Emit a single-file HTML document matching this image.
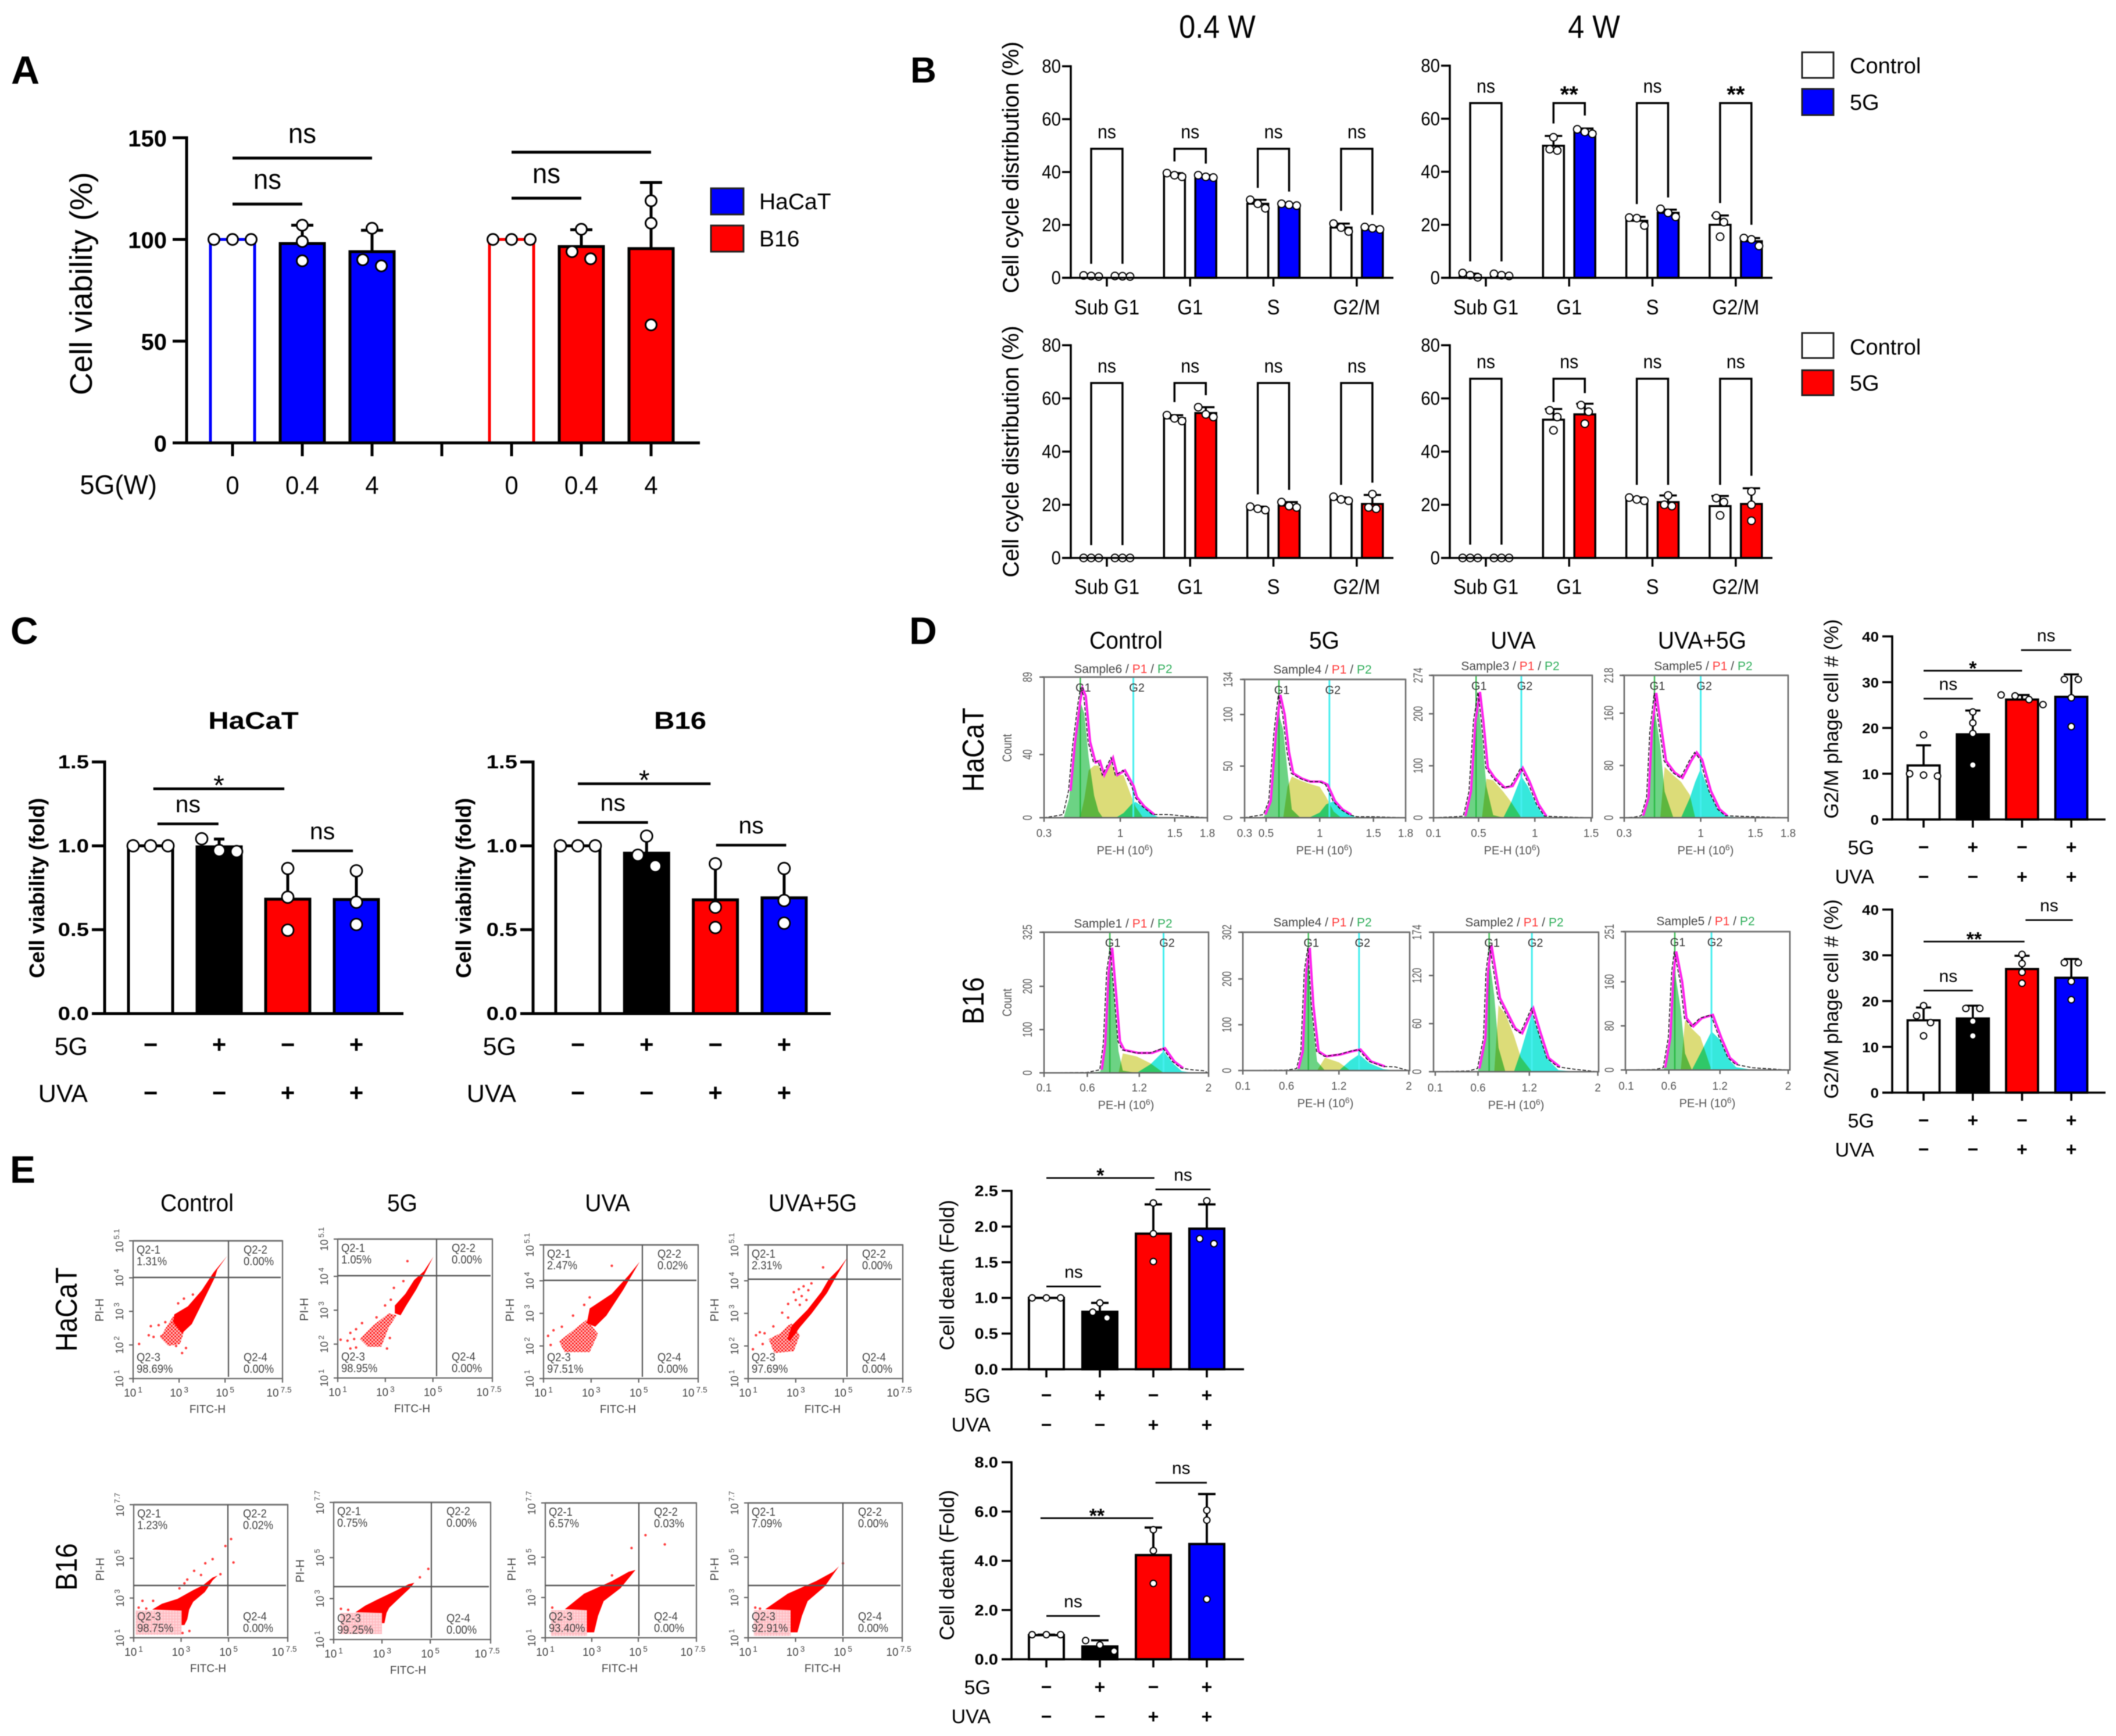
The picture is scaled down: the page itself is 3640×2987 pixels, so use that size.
<!DOCTYPE html>
<html lang="en">
<head>
<meta charset="utf-8">
<title>Multi-panel figure: cell viability, cell cycle and cell death</title>
<style>
html,body{margin:0;padding:0;background:#fff}
svg{display:block;font-family:"Liberation Sans",sans-serif;filter:blur(0.9px)}
</style>
</head>
<body>
<svg id="figure" xmlns="http://www.w3.org/2000/svg" width="3640" height="2987" viewBox="0 0 3640 2987">
<rect x="0" y="0" width="3640" height="2987" fill="#fff"/>
<defs>
<pattern id="speckle" width="6" height="6" patternUnits="userSpaceOnUse">
<rect width="6" height="6" fill="#ffc0c0"/>
<circle cx="1.5" cy="1.5" r="1.6" fill="#ff1010"/>
<circle cx="4.5" cy="4.5" r="1.6" fill="#ff2020"/>
</pattern>
<pattern id="pinkGrid" width="5" height="5" patternUnits="userSpaceOnUse">
<rect width="5" height="5" fill="#ffd4d8"/>
<rect width="1.4" height="5" fill="#ffb8be"/>
<rect width="5" height="1.4" fill="#ffb8be"/>
</pattern>
</defs>
</svg>
<script>
/* ---------- PANEL A DATA ---------- */
const aLabels = ['0','0.4','4','0','0.4','4'];
const aSlots = [0,1,2,4,5,6];
const aMeans = [100,98,94,100,96.5,95.5];
const aTops = [100,107,104.5,100,104.8,128];
const aPoints = [[100,100,100],[107,99,89.5],[87,90,105.5],[100,100,100],[90.5,94,105],[58,108,119]];
const aSigFrom = [0,0,4,4];
const aSigTo = [2,1,6,5];
const aSigLevel = [140,117.4,142.9,120.3];
const aSigText = ['ns','ns','','ns'];
const aYTicks = [0,50,100,150];
const aYTickLabels = ['0','50','100','150'];

/* ---------- PANEL B DATA ---------- */
const bCategories = ['Sub G1','G1','S','G2/M'];
const bYTicks = [0,20,40,60,80];
const bYTickLabels = ['0','20','40','60','80'];
const b1Means = [0.7,0.6,38.8,38.2,28,27.6,19,18.7];
const b1Tops = [0.9,0.7,39.6,38.8,29.5,28,20.5,19.2];
const b1Points = [[0.5,0.7,0.9],[0.5,0.6,0.7],[38.2,38.8,39.6],[37.9,38.2,38.8],[26.3,28,29.5],[27.3,27.6,28],[17.5,19,20.5],[18.3,18.7,19.2]];
const b1BracketTop = [48.8,48.8,48.8,48.8];
const b1LegLeft = [5.3,44,34,25.3];
const b1LegRight = [5.3,43.2,32.6,23.8];
const b1BracketText = ['ns','ns','ns','ns'];
const b2Means = [1,1,49.8,55,21.5,24.5,20,13.8];
const b2Tops = [1.6,1.4,53.5,56.3,23,25.7,23.5,15];
const b2Points = [[0.2,1,1.8],[0.7,1,1.5],[48,48.5,53],[54.3,55,56],[19.7,22.5,22.7],[23,24.5,26],[15.5,21,23.5],[12,14.5,15]];
const b2BracketTop = [65.9,65.9,65.9,65.9];
const b2LegLeft = [6.2,58.2,27.8,28.2];
const b2LegRight = [6.2,61.2,30.3,20];
const b2BracketText = ['ns','**','ns','**'];
const b3Means = [0,0,52.5,54.5,18.6,19.7,22,20.3];
const b3Tops = [0,0,53.7,56.7,19.3,21,22.7,23.7];
const b3Points = [[0,0,0],[0,0,0],[51.5,52.5,53.7],[53,54,56.7],[18,18.5,19.3],[19,19.5,21],[21.5,22,23],[18.5,19,24]];
const b3BracketTop = [65.8,65.8,65.8,65.8];
const b3LegLeft = [4.8,58.6,23.9,27.5];
const b3LegRight = [4.8,61.2,25.6,28.3];
const b3BracketText = ['ns','ns','ns','ns'];
const b4Means = [0,0,52,54,22,21,19.5,20.3];
const b4Tops = [0,0,56,58,22.7,23.5,23.3,26.2];
const b4Points = [[0,0,0],[0,0,0],[48,53,55.5],[50.5,55,57.5],[21.5,22,22.7],[19.5,20,23.5],[16,21,22.5],[14,20,25]];
const b4BracketTop = [67.4,67.4,67.4,67.4];
const b4LegLeft = [5,58.6,27.5,27.5];
const b4LegRight = [5,62,27.5,30.9];
const b4BracketText = ['ns','ns','ns','ns'];

/* ---------- PANEL C DATA ---------- */
const signsFiveG = ['\u2212','+','\u2212','+'];
const signsUva = ['\u2212','\u2212','+','+'];
const cYTicks = [0,0.5,1,1.5];
const cYTickLabels = ['0.0','0.5','1.0','1.5'];
const c1Means = [1,0.994,0.682,0.68];
const c1Tops = [1,1.04,0.865,0.851];
const c1Points = [[1,1,1],[1.042,0.972,0.966],[0.865,0.694,0.497],[0.851,0.664,0.531]];
const c1SigFrom = [0.04,0.1,2.06];
const c1SigTo = [1.95,0.99,2.95];
const c1SigLevel = [1.34,1.131,0.97];
const c1SigText = ['*','ns','ns'];
const c2Means = [1,0.956,0.678,0.69];
const c2Tops = [1,1.058,0.893,0.865];
const c2Points = [[1,1,1],[1.058,0.944,0.879],[0.893,0.634,0.513],[0.865,0.674,0.539]];
const c2SigFrom = [0,0,2.01];
const c2SigTo = [1.93,1.02,3.03];
const c2SigLevel = [1.37,1.139,1.004];
const c2SigText = ['*','ns','ns'];

/* ---------- PANEL D BAR DATA ---------- */
const dYTicks = [0,10,20,30,40];
const dYTickLabels = ['0','10','20','30','40'];
const dBar1Means = [11.8,18.6,26.2,26.8];
const dBar1Tops = [16.2,23.8,27.2,31.7];
const dBar1Points = [[18.5,10,9.5,9.7],[23.5,21.1,18.8,11.9],[27.2,27,26.2,25.1],[30.6,30.6,26.6,20.3]];
const dBar1SigFrom = [0,0,1.98];
const dBar1SigTo = [2,1,3];
const dBar1SigLevel = [32.5,26.4,37];
const dBar1SigText = ['*','ns','ns'];
const dBar2Means = [15.8,16.2,27,25.1];
const dBar2Tops = [18.6,19,29.9,29.2];
const dBar2Points = [[19,16.8,15.3,12.4],[18.4,18.4,15.6,12.4],[30.2,28.2,26.3,23.9],[28.4,28.4,24.3,20.3]];
const dBar2SigFrom = [0,0,2.07];
const dBar2SigTo = [2.05,1,3.03];
const dBar2SigLevel = [33,22.3,37.7];
const dBar2SigText = ['**','ns','ns'];

/* ---------- PANEL E BAR DATA ---------- */
const e1YTicks = [0,0.5,1,1.5,2,2.5];
const e1YTickLabels = ['0.0','0.5','1.0','1.5','2.0','2.5'];
const e1Means = [1,0.805,1.9,1.97];
const e1Tops = [1,0.93,2.31,2.31];
const e1Points = [[1,1,1],[0.93,0.8,0.72],[2.33,1.9,1.51],[2.36,1.83,1.76]];
const e1SigFrom = [0,0,2.04];
const e1SigTo = [2.02,1.02,3.07];
const e1SigLevel = [2.68,1.16,2.52];
const e1SigText = ['*','ns','ns'];
const e2YTicks = [0,2,4,6,8];
const e2YTickLabels = ['0.0','2.0','4.0','6.0','8.0'];
const e2Means = [0.98,0.52,4.23,4.68];
const e2Tops = [1,0.77,5.35,6.71];
const e2Points = [[1,1,1],[0.76,0.58,0.33],[5.26,4.41,3.08],[6.05,5.65,2.44]];
const e2SigFrom = [-0.11,0,2.04];
const e2SigTo = [2,1,3];
const e2SigLevel = [5.73,1.76,7.17];
const e2SigText = ['**','ns','ns'];

/* ---------- PANEL D HISTOGRAM DATA (PE-H in 10^6, counts) ---------- */
const h1Bins  = [0.3,0.4,0.48,0.53,0.57,0.62,0.64,0.67,0.71,0.76,0.8,0.84,0.92,0.96,1.03,1.11,1.14,1.21,1.3,1.36,1.45,1.6,1.8];
const h1Total = [0,1,2,17,47,74,82,77,48,35,36,27,38,27,30,20,13,7,2,2,2,1,0];
const h1G1    = [0,0,0,12,40,66,72,66,38,14,4,0,0,0,0,0,0,0,0,0,0,0,0];
const h1S     = [0,0,0,0,0,0,3,12,30,33,33,27,34,27,27,12,7,0,0,0,0,0,0];
const h1G2    = [0,0,0,0,0,0,0,0,0,0,0,0,0,0,3,9,10,7,2,0,0,0,0];
const h2Bins  = [0.3,0.42,0.48,0.53,0.58,0.62,0.66,0.7,0.74,0.82,0.9,1,1.06,1.13,1.2,1.28,1.35,1.5,1.8];
const h2Total = [0,2,3,16,84,119,100,64,43,38,35,35,32,16,8,3,1,1,0];
const h2G1    = [0,0,1,12,70,100,85,45,8,0,0,0,0,0,0,0,0,0,0];
const h2S     = [0,0,0,0,0,0,0,30,40,36,33,30,20,6,0,0,0,0,0];
const h2G2    = [0,0,0,0,0,0,0,0,0,0,0,5,13,16,8,3,0,0,0];
const h3Bins  = [0.1,0.3,0.37,0.42,0.46,0.5,0.53,0.57,0.63,0.72,0.79,0.88,0.94,1.02,1.09,1.2,1.5];
const h3Total = [0,2,3,51,186,242,186,96,77,58,61,96,70,26,3,2,0];
const h3G1    = [0,0,1,40,150,215,160,60,5,0,0,0,0,0,0,0,0];
const h3S     = [0,0,0,0,0,0,0,75,72,50,30,0,0,0,0,0,0];
const h3G2    = [0,0,0,0,0,0,0,0,0,0,30,80,60,22,2,0,0];
const h4Bins  = [0.3,0.4,0.46,0.51,0.54,0.58,0.63,0.67,0.75,0.82,0.9,0.95,1,1.08,1.16,1.23,1.4,1.8];
const h4Total = [0,1,3,31,133,191,133,87,69,61,87,100,89,41,13,3,2,0];
const h4G1    = [0,0,1,20,110,165,110,40,0,0,0,0,0,0,0,0,0,0];
const h4S     = [0,0,0,0,0,0,0,78,65,55,35,0,0,0,0,0,0,0];
const h4G2    = [0,0,0,0,0,0,0,0,0,0,30,55,75,38,12,2,0,0];
const h5Bins  = [0.1,0.6,0.75,0.79,0.83,0.87,0.92,0.96,1.01,1.17,1.33,1.48,1.59,1.69,1.82,1.95,2];
const h5Total = [0,1,7,65,235,289,173,73,53,46,46,57,26,11,7,5,0];
const h5G1    = [0,0,3,50,210,260,150,50,5,0,0,0,0,0,0,0,0];
const h5S     = [0,0,0,0,0,0,0,0,45,38,22,0,0,0,0,0,0];
const h5G2    = [0,0,0,0,0,0,0,0,0,0,20,50,22,4,0,0,0];
const h6Bins  = [0.1,0.6,0.72,0.77,0.81,0.85,0.89,0.95,1.04,1.2,1.33,1.43,1.55,1.71,1.85,2];
const h6Total = [0,1,4,42,218,268,144,42,31,35,42,46,20,9,8,0];
const h6G1    = [0,0,1,35,190,240,120,20,0,0,0,0,0,0,0,0];
const h6S     = [0,0,0,0,0,0,0,0,28,18,0,0,0,0,0,0];
const h6G2    = [0,0,0,0,0,0,0,0,0,0,22,35,16,3,0,0];
const h7Bins  = [0.1,0.5,0.6,0.67,0.7,0.74,0.79,0.84,0.92,1.02,1.1,1.23,1.31,1.41,1.54,1.74,2];
const h7Total = [0,1,4,42,125,158,125,92,75,54,48,79,50,17,6,3,0];
const h7G1    = [0,0,1,30,100,135,95,30,0,0,0,0,0,0,0,0,0];
const h7S     = [0,0,0,0,0,0,0,83,72,45,18,0,0,0,0,0,0];
const h7G2    = [0,0,0,0,0,0,0,0,0,0,25,72,48,16,2,0,0];
const h8Bins  = [0.1,0.45,0.54,0.6,0.64,0.67,0.74,0.79,0.87,0.97,1.1,1.2,1.3,1.39,1.59,2];
const h8Total = [0,1,4,58,178,215,160,94,79,94,100,58,22,10,4,0];
const h8G1    = [0,0,1,50,150,180,110,30,0,0,0,0,0,0,0,0];
const h8S     = [0,0,0,0,0,0,0,90,75,60,0,0,0,0,0,0];
const h8G2    = [0,0,0,0,0,0,0,0,0,30,70,55,20,5,0,0];

/* ---------- PANEL E SCATTER DATA (log10 FITC-H, log10 PI-H) ---------- */
const s1CoreX = [5.09,4.66,4.57,4.06,3.55,3.13,2.74,2.79,3.38,3.98,4.49];
const s1CoreY = [4.65,4.24,4.03,3.32,2.62,2.35,2.68,2.91,3.15,3.62,4.15];
const s1HaloX = [2.74,3.21,3.04,2.53,2.19,2.36];
const s1HaloY = [2.85,2.38,2.03,1.97,2.21,2.44];
const s1StrayX = [1.26,1.77,1.68,1.89,2.11,2.4,2.23,2.87,3.3,3.13,2.96,3.21,3.6];
const s1StrayY = [2.03,2.56,2.29,2.24,2.59,2.68,2.26,1.97,1.91,1.76,3.24,3.38,3.5];
const s1Pct = ['1.31%','0.00%','98.69%','0.00%'];
const s2CoreX = [5.02,4.62,4.29,3.88,3.64,3.4,3.4,3.84,4.21,4.62];
const s2CoreY = [4.58,4.03,3.6,3.14,2.85,2.91,3.14,3.48,3.89,4.15];
const s2HaloX = [3.48,3.15,2.83,2.26,1.93,2.5,3.15];
const s2HaloY = [2.85,2.5,1.92,1.92,2.15,2.56,2.91];
const s2StrayX = [1.12,1.41,1.53,1.77,2.02,1.69,1.53,1.77,2.63,2.99,3.23,3.36,3.76,3.93,3.07,3.19];
const s2StrayY = [2.13,2.1,2.33,2.44,2.62,2.15,1.87,1.9,2.79,3.14,3.31,3.66,3.86,4.45,1.87,2.18];
const s2Pct = ['1.05%','0.00%','98.95%','0.00%'];
const s3CoreX = [5.04,4.34,3.64,3.17,2.82,2.94,3.87,4.57];
const s3CoreY = [4.58,3.71,2.93,2.59,2.7,3.15,3.6,4.16];
const s3HaloX = [2.82,3.29,2.94,1.89,1.65,2.24];
const s3HaloY = [2.81,2.37,1.81,1.81,2.14,2.48];
const s3StrayX = [1.19,1.42,1.77,1.3,2.24,2.71,3.87,2.94];
const s3StrayY = [2.31,2.48,2.59,2.03,2.93,3.26,4.46,3.49];
const s3Pct = ['2.47%','0.02%','97.51%','0.00%'];
const s4CoreX = [5.17,4.64,4.31,3.66,3.17,2.76,2.64,2.84,3.49,4.07,4.39,4.8];
const s4CoreY = [4.71,4.05,3.62,2.99,2.57,2.15,2.21,2.63,3.11,3.65,4.05,4.35];
const s4HaloX = [2.84,3.17,2.92,2.1,1.86,2.35,2.68];
const s4HaloY = [2.69,2.33,1.84,1.78,2.21,2.39,2.63];
const s4StrayX = [2.92,3.13,3.33,3,3.25,3.45,3.53,3.17,2.68,2.43,2.68,2.06,1.69,1.33,1.49,1.61,1.2,4.15,3.66];
const s4StrayY = [3.65,3.74,3.83,3.41,3.53,3.41,3.71,3.26,3.29,3.02,2.87,2.6,2.39,2.33,2.42,2.06,1.9,4.41,3.92];
const s4Pct = ['2.31%','0.00%','97.69%','0.00%'];
const s5CoreX = [4.54,4.33,4,3.51,3.34,3.26,3.14,3.02,3.02,1.78,2.19,2.85,3.51,3.92,4.33];
const s5CoreY = [4.13,3.89,3.3,2.81,2.42,1.93,1.64,1.64,2.37,2.42,2.71,2.96,3.4,3.64,4.03];
const s5HaloX = [1.08,3.02,3.02,1.08];
const s5HaloY = [2.37,2.37,1.15,1.15];
const s5StrayX = [1.37,1.82,1.21,1.53,2.93,3.14,3.26,3.55,3.84,4.02,4.33,4.87,5.11,5.21,4.66,3.35,3.06];
const s5StrayY = [2.86,2.86,2.52,2.47,3.49,3.74,3.93,4.37,4.16,4.75,4.96,5.62,5.97,4.79,4.2,1.34,1.24];
const s5Pct = ['1.23%','0.02%','98.75%','0.00%'];
const s6CoreX = [4.34,4.15,3.7,3.3,3.19,3.1,3,3,1.9,2.3,2.8,3.6,4.1];
const s6CoreY = [3.77,3.5,3,2.55,2.3,1.8,1.8,2.3,2.33,2.65,2.95,3.4,3.7];
const s6HaloX = [1.28,3,3,1.28];
const s6HaloY = [2.3,2.3,1.27,1.27];
const s6StrayX = [4.92,4.57,1.3,1.6];
const s6StrayY = [4.45,4.04,2.5,2.45];
const s6Pct = ['0.75%','0.00%','99.25%','0.00%'];
const s7CoreX = [4.88,4.23,3.51,3.27,3.1,2.79,2.79,1.84,2.67,3.87,4.59];
const s7CoreY = [4.37,3.46,2.82,2.09,1.27,1.27,2.37,2.42,3.19,3.82,4.28];
const s7HaloX = [1.24,2.8,2.8,1.24];
const s7HaloY = [2.37,2.37,1.09,1.09];
const s7StrayX = [5.31,6.14,4.71,3.87,1.3];
const s7StrayY = [6.1,5.64,5.46,4.1,2.5];
const s7Pct = ['6.57%','0.03%','93.40%','0.00%'];
const s8CoreX = [4.83,4.23,3.51,3.27,3.08,2.79,2.79,1.72,2.67,3.87,4.59];
const s8CoreY = [4.55,3.55,2.82,2.09,1.27,1.27,2.37,2.42,3.19,3.82,4.28];
const s8HaloX = [1.24,2.8,2.8,1.24];
const s8HaloY = [2.37,2.37,1.09,1.09];
const s8StrayX = [1.3,1.5,5];
const s8StrayY = [2.5,2.45,4.7];
const s8Pct = ['7.09%','0.00%','92.91%','0.00%'];
const scatterXExponents = [1,3,5,7.5];
const scatterYExponentsTop = [1,2,3,4,5.1];
const scatterYExponentsBottom = [1,3,5,7.7];
const quadrantNames = ['Q2-1','Q2-2','Q2-3','Q2-4'];

/* ---------- DRAWING HELPERS ---------- */
const SVGNS = 'http://www.w3.org/2000/svg';
const root = document.getElementById('figure');

function el(tag, attrs, parent) {
  const node = document.createElementNS(SVGNS, tag);
  for (const key in attrs) { node.setAttribute(key, attrs[key]); }
  (parent || root).appendChild(node);
  return node;
}
function named(node, name) {
  
  
  return node;
}
function group(name, parent) {
  return named(el('g', {}, parent), name);
}
function text(parent, x, y, str, o, name) {
  o = o || {};
  let tf = 'translate(' + x + ' ' + y + ')';
  if (o.rot) { tf += ' rotate(' + o.rot + ')'; }
  if (o.sx) { tf += ' scale(' + o.sx + ' 1)'; }
  const t = el('text', {
    transform: tf,
    'font-size': o.size || 30,
    'text-anchor': o.anchor || 'middle',
    'font-weight': o.weight || 'normal',
    fill: o.fill || '#000'
  }, parent);
  t.textContent = str;
  named(t, name || 'label');
  return t;
}
function line(parent, x1, y1, x2, y2, stroke, width, name) {
  const l = el('line', { x1: x1, y1: y1, x2: x2, y2: y2, stroke: stroke, 'stroke-width': width }, parent);
  named(l, name || 'line');
  return l;
}
function swarmOffsets(pixelYs, gap, step) {
  const order = pixelYs.map((v, i) => i).sort((a, b) => pixelYs[a] - pixelYs[b]);
  const offsets = new Array(pixelYs.length).fill(0);
  let cluster = [];
  const flush = () => {
    cluster.forEach((idx, k) => { offsets[idx] = (k - (cluster.length - 1) / 2) * step; });
    cluster = [];
  };
  order.forEach((idx, k) => {
    if (k > 0 && pixelYs[idx] - pixelYs[order[k - 1]] >= gap) { flush(); }
    cluster.push(idx);
  });
  flush();
  return offsets;
}

function drawBarChart(c) {
  const g = group(c.name);
  const xOf = s => c.first + s * c.step;
  const yOf = v => c.yBase - v / c.yMax * (c.yBase - c.yTop);
  const slots = c.slots || c.means.map((v, i) => i);

  c.means.forEach((m, i) => {
    const cx = xOf(slots[i]);
    const bar = el('rect', {
      x: cx - c.barW / 2, y: yOf(m), width: c.barW, height: c.yBase - yOf(m),
      fill: c.fills[i], stroke: c.strokes[i], 'stroke-width': c.lw
    }, g);
    named(bar, 'bar-' + c.name + '-' + i);
  });
  c.means.forEach((m, i) => {
    const cx = xOf(slots[i]);
    if (c.tops[i] > m + 0.0001) {
      line(g, cx, yOf(m), cx, yOf(c.tops[i]), '#000', c.errLw, 'error-bar');
      line(g, cx - c.cap, yOf(c.tops[i]), cx + c.cap, yOf(c.tops[i]), '#000', c.errLw, 'error-cap');
    }
  });
  c.points.forEach((pts, i) => {
    const cx = xOf(slots[i]);
    const ys = pts.map(yOf);
    const off = swarmOffsets(ys, c.r * 2 + 1, c.swarm);
    ys.forEach((py, k) => {
      const dot = el('circle', { cx: cx + off[k], cy: py, r: c.r, fill: '#fff', stroke: '#000', 'stroke-width': c.dotLw }, g);
      named(dot, 'data-point');
    });
  });

  line(g, c.axisX, c.yTop - c.axisLw / 2, c.axisX, c.yBase + c.axisLw / 2, '#000', c.axisLw, 'y-axis');
  line(g, c.tickLeft, c.yBase, c.axisEnd, c.yBase, '#000', c.axisLw, 'x-axis');
  c.yTicks.forEach((v, i) => {
    line(g, c.tickLeft, yOf(v), c.axisX, yOf(v), '#000', c.axisLw, 'y-tick');
    text(g, c.tickRight, yOf(v) + c.tickFont.dy, c.yTickLabels[i],
      { size: c.tickFont.size, sx: c.tickFont.sx, weight: c.tickFont.weight, anchor: 'end' }, 'y-tick-label');
  });
  (c.xTickSlots || []).forEach(s => {
    line(g, xOf(s), c.yBase, xOf(s), c.tickBottom, '#000', c.axisLw, 'x-tick');
  });
  (c.catLabels || []).forEach((label, i) => {
    text(g, xOf(c.catSlots[i]), c.catBaseline, label, { size: c.catSize, sx: c.catSx }, 'category-label');
  });
  const yt = c.yTitle;
  text(g, yt.x, yt.y, yt.text, { size: yt.size, weight: yt.weight, rot: -90, sx: yt.sx }, 'y-axis-title');

  if (c.sig) {
    const s = c.sig;
    s.text.forEach((label, i) => {
      const ly = yOf(s.level[i]);
      const x1 = xOf(s.from[i]);
      const x2 = xOf(s.to[i]);
      line(g, x1, ly, x2, ly, '#000', s.lw, 'significance-line');
      if (!label) { return; }
      if (label === 'ns') {
        text(g, (x1 + x2) / 2, ly - s.gap, 'ns', { size: s.size, sx: s.sx }, 'significance-label');
      } else {
        text(g, (x1 + x2) / 2, ly - s.starGap + 0.42 * s.starSize, label,
          { size: s.starSize, weight: s.starWeight || 'normal' }, 'significance-label');
      }
    });
  }
  if (c.bracket) {
    const b = c.bracket;
    b.text.forEach((label, i) => {
      const xl = xOf(slots[i * 2]);
      const xr = xOf(slots[i * 2 + 1]);
      const p = el('path', {
        d: 'M' + xl + ' ' + yOf(b.left[i]) + 'V' + yOf(b.top[i]) + 'H' + xr + 'V' + yOf(b.right[i]),
        fill: 'none', stroke: '#000', 'stroke-width': b.lw
      }, g);
      named(p, 'comparison-bracket');
      const cx = (xl + xr) / 2;
      if (label === 'ns') {
        text(g, cx, yOf(b.top[i]) - b.gap, 'ns', { size: b.size, sx: b.sx }, 'significance-label');
      } else {
        text(g, cx, yOf(b.top[i]) - b.starGap + 0.42 * b.starSize, label,
          { size: b.starSize, weight: 'bold' }, 'significance-label');
      }
    });
  }
  if (c.signs) {
    const r = c.signs;
    r.rows.forEach(row => {
      text(g, r.right, row.baseline, row.label, { size: r.size, anchor: 'end' }, 'treatment-row-label');
      row.marks.forEach((mark, i) => {
        text(g, xOf(i), row.markY + 0.3 * r.markSize, mark, { size: r.markSize, weight: 'bold' }, 'treatment-mark');
      });
    });
  }
}

function drawHistogram(c) {
  const g = group(c.name);
  const xOf = v => c.x0 + (v - c.xMin) / (c.xMax - c.xMin) * (c.x1 - c.x0);
  const yOf = v => c.yBase - v / c.yMax * (c.yBase - c.yTop);
  const area = (vals, fill, name, blend) => {
    let d = 'M' + xOf(c.bins[0]) + ' ' + c.yBase;
    vals.forEach((v, i) => { d += 'L' + xOf(c.bins[i]) + ' ' + yOf(v); });
    d += 'L' + xOf(c.bins[c.bins.length - 1]) + ' ' + c.yBase + 'Z';
    const p = el('path', { d: d, fill: fill }, g);
    if (blend) { p.style.mixBlendMode = 'multiply'; }
    named(p, name);
  };
  area(c.s, '#dcdc78', 's-phase-area', false);
  area(c.g2, '#36e8dc', 'g2-phase-area', true);
  area(c.g1, '#6cd384', 'g1-phase-area', true);

  const gate1 = line(g, xOf(c.g1At), c.yTop, xOf(c.g1At), c.yBase, '#1fb53a', 2.5, 'g1-gate-line');
  gate1.setAttribute('opacity', '0.85');
  line(g, xOf(c.g2At), c.yTop, xOf(c.g2At), c.yBase, '#44eeee', 3, 'g2-gate-line');

  let fit = '';
  let pen = 'M';
  c.total.forEach((v, i) => {
    if (c.g1[i] + c.s[i] + c.g2[i] > 0) {
      fit += pen + (xOf(c.bins[i]) + 2.5) + ' ' + yOf(v);
      pen = 'L';
    }
  });
  named(el('path', { d: fit, fill: 'none', stroke: '#ff22ee', 'stroke-width': 4 }, g), 'fit-curve');
  let raw = '';
  c.total.forEach((v, i) => { raw += (i ? 'L' : 'M') + (xOf(c.bins[i]) - 1) + ' ' + yOf(v); });
  const rawLine = el('path', { d: raw, fill: 'none', stroke: '#111', 'stroke-width': 1.5, 'stroke-dasharray': '6 3' }, g);
  named(rawLine, 'measured-histogram');

  const frame = el('rect', { x: c.x0, y: c.yTop, width: c.x1 - c.x0, height: c.yBase - c.yTop, fill: 'none', stroke: '#666', 'stroke-width': 2.5 }, g);
  named(frame, 'plot-frame');
  line(g, c.x0 - 4, c.yTop, c.x1, c.yTop, '#777', 3, 'plot-top-edge');

  c.xTicks.forEach((v, i) => {
    line(g, xOf(v), c.yBase, xOf(v), c.yBase + 7, '#666', 2.5, 'x-tick');
    text(g, xOf(v), c.xTickBaseline, c.xTickLabels[i], { size: 19, fill: '#555' }, 'x-tick-label');
  });
  c.yTicks.forEach((v, i) => {
    line(g, c.x0 - 8, yOf(v), c.x0, yOf(v), '#666', 2.5, 'y-tick');
    text(g, c.yTickX, yOf(v), c.yTickLabels[i], { size: 22, sx: 0.72, rot: -90, fill: '#555' }, 'y-tick-label');
  });
  text(g, xOf(c.g1At) + 5, c.yTop + 25, 'G1', { size: 20, fill: '#333' }, 'g1-label');
  text(g, xOf(c.g2At) + 6, c.yTop + 25, 'G2', { size: 20, fill: '#333' }, 'g2-label');

  const head = el('text', { x: c.titleX, y: c.titleY, 'font-size': 21, 'text-anchor': 'middle', fill: '#444' }, g);
  named(head, 'sample-title');
  const pieces = [[c.sample + ' / ', '#444'], ['P1', '#ff3b3b'], [' / ', '#444'], ['P2', '#2fae5a']];
  pieces.forEach(piece => {
    const sp = el('tspan', { fill: piece[1] }, head);
    sp.textContent = piece[0];
  });

  const xl = el('text', { x: c.xlabX, y: c.xlabY, 'font-size': 20, 'text-anchor': 'middle', fill: '#555' }, g);
  named(xl, 'x-axis-title');
  xl.textContent = 'PE-H  (10';
  const sup = el('tspan', { dy: -7, 'font-size': 14 }, xl);
  sup.textContent = '6';
  const close = el('tspan', { dy: 7 }, xl);
  close.textContent = ')';

  if (c.showCount) {
    text(g, c.countX, c.countY, 'Count', { size: 22, sx: 0.82, rot: -90, fill: '#555' }, 'y-axis-title');
  }
}

function drawPower(parent, x, y, exponent, o, name) {
  let tf = 'translate(' + x + ' ' + y + ')';
  if (o.rot) { tf += ' rotate(' + o.rot + ')'; }
  const t = el('text', { transform: tf, 'font-size': o.size, 'text-anchor': 'middle', fill: '#444' }, parent);
  named(t, name);
  t.textContent = '10';
  const sup = el('tspan', { dy: -7, dx: 3, 'font-size': o.size * 0.72 }, t);
  sup.textContent = String(exponent);
}

function drawScatter(c) {
  const g = group(c.name);
  const xOf = v => c.x0 + (v - 1) / 6.5 * (c.x1 - c.x0);
  const yOf = v => c.yBase - (v - 1) / (c.yMaxExp - 1) * (c.yBase - c.yTop);
  const poly = (xs, ys, fill, name) => {
    let pts = '';
    xs.forEach((v, i) => { pts += xOf(v) + ',' + yOf(ys[i]) + ' '; });
    named(el('polygon', { points: pts, fill: fill }, g), name);
  };
  poly(c.haloX, c.haloY, c.haloFill, 'sparse-event-cloud');
  poly(c.coreX, c.coreY, '#ff0000', 'dense-event-cloud');
  (c.strayX || []).forEach((v, i) => {
    named(el('circle', { cx: xOf(v), cy: yOf(c.strayY[i]), r: 2.2, fill: '#ff4040' }, g), 'stray-event');
  });

  const frame = el('rect', { x: c.x0, y: c.yTop, width: c.x1 - c.x0, height: c.yBase - c.yTop, fill: 'none', stroke: '#666', 'stroke-width': 2.2 }, g);
  named(frame, 'plot-frame');
  line(g, c.x0, c.yTop, c.x1, c.yTop, '#777', 3, 'plot-top-edge');
  line(g, c.gateX, c.yTop, c.gateX, c.yBase - 3, '#555', 2.2, 'vertical-gate');
  line(g, c.x0, c.gateY, c.x1 - 3, c.gateY, '#555', 2.6, 'horizontal-gate');

  scatterXExponents.forEach(e => {
    line(g, xOf(e), c.yBase, xOf(e), c.yBase + 7, '#666', 2.2, 'x-tick');
    drawPower(g, xOf(e) + (e === 7.5 ? -6 : 0), c.yBase + 31, e, { size: 19 }, 'x-tick-label');
  });
  c.yExps.forEach(e => {
    line(g, c.x0 - 7, yOf(e), c.x0, yOf(e), '#666', 2.2, 'y-tick');
    drawPower(g, c.x0 - 17, yOf(e), e, { size: 18, rot: -90 }, 'y-tick-label');
  });

  text(g, c.x0 + 128, c.yBase + 59, 'FITC-H', { size: 19, fill: '#444' }, 'x-axis-title');
  text(g, c.x0 - 51, c.yBase - 118, 'PI-H', { size: 20, rot: -90, fill: '#444' }, 'y-axis-title');

  const rightX = c.gateX + 26;
  const leftX = c.x0 + 6;
  const qx = [leftX, rightX, leftX, rightX];
  const qy = [c.yTop + 22, c.yTop + 22, c.yBase - 30, c.yBase - 30];
  quadrantNames.forEach((q, i) => {
    text(g, qx[i], qy[i], q, { size: 20, anchor: 'start', fill: '#444', sx: 0.92 }, 'quadrant-name');
    text(g, qx[i], qy[i] + 20, c.pct[i], { size: 20, anchor: 'start', fill: '#444', sx: 0.92 }, 'quadrant-percent');
  });
}

/* ---------- PANEL LETTERS AND HEADINGS ---------- */
const letters = group('panel-letters');
text(letters, 19, 144, 'A', { size: 68, weight: 'bold', anchor: 'start' }, 'panel-letter-a');
text(letters, 1566, 142, 'B', { size: 62, weight: 'bold', anchor: 'start' }, 'panel-letter-b');
text(letters, 18, 1108, 'C', { size: 66, weight: 'bold', anchor: 'start' }, 'panel-letter-c');
text(letters, 1564, 1108, 'D', { size: 66, weight: 'bold', anchor: 'start' }, 'panel-letter-d');
text(letters, 17, 2035, 'E', { size: 66, weight: 'bold', anchor: 'start' }, 'panel-letter-e');

const heads = group('panel-headings');
text(heads, 2094, 65, '0.4 W', { size: 56, sx: 0.9 }, 'heading-0-4-w');
text(heads, 2742, 65, '4 W', { size: 56, sx: 0.9 }, 'heading-4-w');
text(heads, 436, 1254, 'HaCaT', { size: 42, weight: 'bold', sx: 1.17 }, 'heading-hacat');
text(heads, 1170, 1254, 'B16', { size: 42, weight: 'bold', sx: 1.17 }, 'heading-b16');
text(heads, 1937, 1116, 'Control', { size: 42, sx: 0.93 }, 'column-control');
text(heads, 2278, 1116, '5G', { size: 42, sx: 0.93 }, 'column-5g');
text(heads, 2603, 1116, 'UVA', { size: 42, sx: 0.93 }, 'column-uva');
text(heads, 2928, 1116, 'UVA+5G', { size: 42, sx: 0.93 }, 'column-uva-5g');
text(heads, 339, 2084, 'Control', { size: 42, sx: 0.93 }, 'column-control');
text(heads, 692, 2084, '5G', { size: 42, sx: 0.93 }, 'column-5g');
text(heads, 1045, 2084, 'UVA', { size: 42, sx: 0.93 }, 'column-uva');
text(heads, 1398, 2084, 'UVA+5G', { size: 42, sx: 0.93 }, 'column-uva-5g');
text(heads, 1692, 1290, 'HaCaT', { size: 52, sx: 0.88, rot: -90 }, 'row-label-hacat');
text(heads, 1692, 1722, 'B16', { size: 52, sx: 0.88, rot: -90 }, 'row-label-b16');
text(heads, 132, 2253, 'HaCaT', { size: 52, sx: 0.88, rot: -90 }, 'row-label-hacat');
text(heads, 132, 2696, 'B16', { size: 52, sx: 0.88, rot: -90 }, 'row-label-b16');

/* ---------- LEGENDS ---------- */
function legendEntry(x, y, w, h, fill, label, tx, ty, size, name) {
  const g = group(name);
  named(el('rect', { x: x, y: y, width: w, height: h, fill: fill, stroke: '#222', 'stroke-width': 3 }, g), name + '-swatch');
  text(g, tx, ty, label, { size: size, anchor: 'start' }, name + '-text');
}
legendEntry(1223, 324, 56, 45, '#0000ff', 'HaCaT', 1306, 360, 39, 'legend-entry-hacat');
legendEntry(1223, 388, 56, 45, '#ff0000', 'B16', 1306, 424, 39, 'legend-entry-b16');
legendEntry(3100, 90, 54, 44, '#ffffff', 'Control', 3182, 126, 38, 'legend-entry-control');
legendEntry(3100, 153, 54, 45, '#0000ff', '5G', 3182, 189, 38, 'legend-entry-5g');
legendEntry(3100, 573, 54, 43, '#ffffff', 'Control', 3182, 610, 38, 'legend-entry-control');
legendEntry(3100, 637, 54, 43, '#ff0000', '5G', 3182, 672, 38, 'legend-entry-5g');

/* ---------- PANEL A ---------- */
drawBarChart({
  name: 'panel-a-cell-viability',
  axisX: 321, axisEnd: 1204, tickLeft: 297, yTop: 237, yBase: 762, yMax: 150,
  yTicks: aYTicks, yTickLabels: aYTickLabels, tickRight: 287,
  tickFont: { size: 40, weight: 'bold', dy: 15 },
  first: 400, step: 120, barW: 76, lw: 5, axisLw: 5, errLw: 5, cap: 19,
  slots: aSlots, means: aMeans, tops: aTops, points: aPoints,
  fills: ['#fff', '#0000ff', '#0000ff', '#fff', '#ff0000', '#ff0000'],
  strokes: ['#0000ff', '#000', '#000', '#ff0000', '#000', '#000'],
  r: 9.5, dotLw: 3, swarm: 32,
  xTickSlots: [0, 1, 2, 3, 4, 5, 6], tickBottom: 785,
  catLabels: aLabels, catSlots: aSlots, catBaseline: 850, catSize: 44, catSx: 0.95,
  yTitle: { text: 'Cell viability (%)', x: 158, y: 488, size: 54 },
  sig: { from: aSigFrom, to: aSigTo, level: aSigLevel, text: aSigText, lw: 5, size: 48, sx: 0.95, gap: 26 }
});
text(root, 270, 850, '5G(W)', { size: 46, anchor: 'end', sx: 0.98 }, 'x-axis-row-label');

/* ---------- PANEL B ---------- */
const pairSlot = i => Math.floor(i / 2) + (i % 2 ? 0.188 : -0.188);
const barSlots8 = [0, 1, 2, 3, 4, 5, 6, 7].map(pairSlot);
function drawCycleChart(o) {
  drawBarChart({
    name: o.name,
    axisX: o.axisX, axisEnd: o.axisEnd, tickLeft: o.axisX - 15, yTop: o.yTop, yBase: o.yBase, yMax: 80,
    yTicks: bYTicks, yTickLabels: bYTickLabels, tickRight: o.axisX - 17,
    tickFont: { size: 32, sx: 0.92, dy: 11 },
    first: o.first, step: 143.3, barW: 36, lw: 3.5, axisLw: 3.5, errLw: 3.5, cap: 15,
    slots: barSlots8, means: o.means, tops: o.tops, points: o.points,
    fills: ['#fff', o.color, '#fff', o.color, '#fff', o.color, '#fff', o.color],
    strokes: ['#000', '#000', '#000', '#000', '#000', '#000', '#000', '#000'],
    r: 6.5, dotLw: 2, swarm: 13,
    xTickSlots: [0, 1, 2, 3], tickBottom: o.yBase + 15,
    catLabels: bCategories, catSlots: [0, 1, 2, 3], catBaseline: o.catBaseline, catSize: 36, catSx: 0.92,
    yTitle: { text: 'Cell cycle distribution (%)', x: 1752, y: o.titleY, size: 38.6 },
    bracket: { top: o.bTop, left: o.bLeft, right: o.bRight, text: o.bText, lw: 3.5, size: 33, sx: 0.92, gap: 18, starSize: 40, starGap: 18 }
  });
}
drawCycleChart({ name: 'panel-b-hacat-0-4w', axisX: 1842, axisEnd: 2397, yTop: 114, yBase: 478, first: 1904, color: '#0000ff', catBaseline: 541, titleY: 288, means: b1Means, tops: b1Tops, points: b1Points, bTop: b1BracketTop, bLeft: b1LegLeft, bRight: b1LegRight, bText: b1BracketText });
drawCycleChart({ name: 'panel-b-hacat-4w', axisX: 2494, axisEnd: 3049, yTop: 113, yBase: 478, first: 2556, color: '#0000ff', catBaseline: 541, titleY: 288, means: b2Means, tops: b2Tops, points: b2Points, bTop: b2BracketTop, bLeft: b2LegLeft, bRight: b2LegRight, bText: b2BracketText });
drawCycleChart({ name: 'panel-b-b16-0-4w', axisX: 1842, axisEnd: 2397, yTop: 594, yBase: 960, first: 1904, color: '#ff0000', catBaseline: 1022, titleY: 777, means: b3Means, tops: b3Tops, points: b3Points, bTop: b3BracketTop, bLeft: b3LegLeft, bRight: b3LegRight, bText: b3BracketText });
drawCycleChart({ name: 'panel-b-b16-4w', axisX: 2494, axisEnd: 3049, yTop: 594, yBase: 960, first: 2556, color: '#ff0000', catBaseline: 1022, titleY: 777, means: b4Means, tops: b4Tops, points: b4Points, bTop: b4BracketTop, bLeft: b4LegLeft, bRight: b4LegRight, bText: b4BracketText });

/* ---------- PANEL C ---------- */
const fourFills = ['#fff', '#000', '#ff0000', '#0000ff'];
const fourStrokes = ['#000', '#000', '#000', '#000'];
function drawViabilityChart(o) {
  drawBarChart({
    name: o.name,
    axisX: o.axisX, axisEnd: o.axisEnd, tickLeft: o.axisX - 22, yTop: 1311, yBase: 1744, yMax: 1.5,
    yTicks: cYTicks, yTickLabels: cYTickLabels, tickRight: o.axisX - 27,
    tickFont: { size: 32, weight: 'bold', sx: 1.2, dy: 11 },
    first: o.first, step: o.step, barW: 76, lw: 5, axisLw: 5, errLw: 5, cap: 9,
    means: o.means, tops: o.tops, points: o.points, fills: fourFills, strokes: fourStrokes,
    r: 10, dotLw: 2.8, swarm: 30,
    yTitle: { text: 'Cell viability (fold)', x: o.titleX, y: 1528, size: 36, weight: 'bold' },
    sig: { from: o.sigFrom, to: o.sigTo, level: o.sigLevel, text: o.sigText, lw: 4.6, size: 41, gap: 20, starSize: 48, starGap: 10 },
    signs: { right: 151 + o.axisX - 180, size: 43, markSize: 42, rows: [
      { label: '5G', baseline: 1815, markY: 1799, marks: signsFiveG },
      { label: 'UVA', baseline: 1896, markY: 1882, marks: signsUva }
    ] }
  });
}
drawViabilityChart({ name: 'panel-c-hacat', axisX: 180, axisEnd: 694, first: 259, step: 118, titleX: 76, means: c1Means, tops: c1Tops, points: c1Points, sigFrom: c1SigFrom, sigTo: c1SigTo, sigLevel: c1SigLevel, sigText: c1SigText });
drawViabilityChart({ name: 'panel-c-b16', axisX: 917, axisEnd: 1429, first: 994, step: 118.3, titleX: 810, means: c2Means, tops: c2Tops, points: c2Points, sigFrom: c2SigFrom, sigTo: c2SigTo, sigLevel: c2SigLevel, sigText: c2SigText });

/* ---------- PANEL D BARS ---------- */
function drawG2Chart(o) {
  drawBarChart({
    name: o.name,
    axisX: 3255, axisEnd: 3622, tickLeft: 3238, yTop: o.yTop, yBase: o.yBase, yMax: 40,
    yTicks: dYTicks, yTickLabels: dYTickLabels, tickRight: 3232,
    tickFont: { size: 24, weight: 'bold', sx: 1.08, dy: 9 },
    first: 3309, step: 84.7, barW: 55, lw: 3.8, axisLw: 3.6, errLw: 3.6, cap: 13,
    means: o.means, tops: o.tops, points: o.points, fills: fourFills, strokes: fourStrokes,
    r: 5.5, dotLw: 2, swarm: 24,
    xTickSlots: [0, 1, 2, 3], tickBottom: o.yBase + 14,
    yTitle: { text: 'G2/M phage cell # (%)', x: 3162, y: o.titleY, size: 34.5 },
    sig: { from: o.sigFrom, to: o.sigTo, level: o.sigLevel, text: o.sigText, lw: 2.8, size: 30, gap: 15, starSize: 34, starGap: 7, starWeight: 'bold' },
    signs: { right: 3224, size: 34, markSize: 32, rows: [
      { label: '5G', baseline: o.b1, markY: o.m1, marks: signsFiveG },
      { label: 'UVA', baseline: o.b2, markY: o.m2, marks: signsUva }
    ] }
  });
}
drawG2Chart({ name: 'panel-d-g2m-hacat', yTop: 1095, yBase: 1410, titleY: 1237, b1: 1470, b2: 1520, m1: 1459, m2: 1510, means: dBar1Means, tops: dBar1Tops, points: dBar1Points, sigFrom: dBar1SigFrom, sigTo: dBar1SigTo, sigLevel: dBar1SigLevel, sigText: dBar1SigText });
drawG2Chart({ name: 'panel-d-g2m-b16', yTop: 1565, yBase: 1880, titleY: 1719, b1: 1940, b2: 1990, m1: 1929, m2: 1979, means: dBar2Means, tops: dBar2Tops, points: dBar2Points, sigFrom: dBar2SigFrom, sigTo: dBar2SigTo, sigLevel: dBar2SigLevel, sigText: dBar2SigText });

/* ---------- PANEL E BARS ---------- */
function drawDeathChart(o) {
  drawBarChart({
    name: o.name,
    axisX: 1740, axisEnd: 2140, tickLeft: 1723, yTop: o.yTop, yBase: o.yBase, yMax: o.yMax,
    yTicks: o.yTicks, yTickLabels: o.yLabels, tickRight: 1717,
    tickFont: { size: 26, weight: 'bold', sx: 1.12, dy: 9 },
    first: 1800, step: 92, barW: 60, lw: 4, axisLw: 3.6, errLw: 3.8, cap: 15,
    means: o.means, tops: o.tops, points: o.points, fills: fourFills, strokes: fourStrokes,
    r: 5.5, dotLw: 2, swarm: 24.5,
    xTickSlots: [0, 1, 2, 3], tickBottom: o.yBase + 14,
    yTitle: { text: 'Cell death (Fold)', x: 1641, y: o.titleY, size: 35 },
    sig: { from: o.sigFrom, to: o.sigTo, level: o.sigLevel, text: o.sigText, lw: 2.8, size: 30, gap: 15, starSize: 34, starGap: 7, starWeight: 'bold' },
    signs: { right: 1704, size: 34, markSize: 32, rows: [
      { label: '5G', baseline: o.b1, markY: o.m1, marks: signsFiveG },
      { label: 'UVA', baseline: o.b2, markY: o.m2, marks: signsUva }
    ] }
  });
}
drawDeathChart({ name: 'panel-e-death-hacat', yTop: 2049, yBase: 2356, yMax: 2.5, yTicks: e1YTicks, yLabels: e1YTickLabels, titleY: 2194, b1: 2413, b2: 2463, m1: 2402, m2: 2453, means: e1Means, tops: e1Tops, points: e1Points, sigFrom: e1SigFrom, sigTo: e1SigTo, sigLevel: e1SigLevel, sigText: e1SigText });
drawDeathChart({ name: 'panel-e-death-b16', yTop: 2516, yBase: 2855, yMax: 8, yTicks: e2YTicks, yLabels: e2YTickLabels, titleY: 2693, b1: 2915, b2: 2965, m1: 2904, m2: 2955, means: e2Means, tops: e2Tops, points: e2Points, sigFrom: e2SigFrom, sigTo: e2SigTo, sigLevel: e2SigLevel, sigText: e2SigText });

/* ---------- PANEL D HISTOGRAMS ---------- */
drawHistogram({ name: 'histogram-hacat-control', x0: 1796, x1: 2077, yTop: 1165, yBase: 1407, xMin: 0.3, xMax: 1.8, yMax: 89, bins: h1Bins, total: h1Total, g1: h1G1, s: h1S, g2: h1G2, g1At: 0.633, g2At: 1.12, sample: 'Sample6', titleX: 1932, titleY: 1158, xlabX: 1935, xlabY: 1470, xTicks: [0.3, 1, 1.5, 1.8], xTickLabels: ['0.3', '1', '1.5', '1.8'], yTicks: [0, 40, 89], yTickLabels: ['0', '40', '89'], yTickX: 1775, xTickBaseline: 1440, showCount: true, countX: 1740, countY: 1287 });
drawHistogram({ name: 'histogram-hacat-5g', x0: 2141, x1: 2418, yTop: 1169, yBase: 1407, xMin: 0.3, xMax: 1.8, yMax: 134, bins: h2Bins, total: h2Total, g1: h2G1, s: h2S, g2: h2G2, g1At: 0.62, g2At: 1.09, sample: 'Sample4', titleX: 2275, titleY: 1159, xlabX: 2278, xlabY: 1470, xTicks: [0.3, 0.5, 1, 1.5, 1.8], xTickLabels: ['0.3', '0.5', '1', '1.5', '1.8'], yTicks: [0, 50, 100, 134], yTickLabels: ['0', '50', '100', '134'], yTickX: 2120, xTickBaseline: 1440 });
drawHistogram({ name: 'histogram-hacat-uva', x0: 2466, x1: 2739, yTop: 1162, yBase: 1407, xMin: 0.1, xMax: 1.51, yMax: 274, bins: h3Bins, total: h3Total, g1: h3G1, s: h3S, g2: h3G2, g1At: 0.478, g2At: 0.88, sample: 'Sample3', titleX: 2598, titleY: 1153, xlabX: 2601, xlabY: 1470, xTicks: [0.1, 0.5, 1, 1.5], xTickLabels: ['0.1', '0.5', '1', '1.5'], yTicks: [0, 100, 200, 274], yTickLabels: ['0', '100', '200', '274'], yTickX: 2447, xTickBaseline: 1440 });
drawHistogram({ name: 'histogram-hacat-uva-5g', x0: 2794, x1: 3076, yTop: 1162, yBase: 1407, xMin: 0.3, xMax: 1.8, yMax: 218, bins: h4Bins, total: h4Total, g1: h4G1, s: h4S, g2: h4G2, g1At: 0.577, g2At: 1, sample: 'Sample5', titleX: 2930, titleY: 1153, xlabX: 2934, xlabY: 1470, xTicks: [0.3, 1, 1.5, 1.8], xTickLabels: ['0.3', '1', '1.5', '1.8'], yTicks: [0, 80, 160, 218], yTickLabels: ['0', '80', '160', '218'], yTickX: 2775, xTickBaseline: 1440 });
drawHistogram({ name: 'histogram-b16-control', x0: 1796, x1: 2079, yTop: 1604, yBase: 1846, xMin: 0.1, xMax: 2, yMax: 325, bins: h5Bins, total: h5Total, g1: h5G1, s: h5S, g2: h5G2, g1At: 0.86, g2At: 1.48, sample: 'Sample1', titleX: 1932, titleY: 1596, xlabX: 1937, xlabY: 1908, xTicks: [0.1, 0.6, 1.2, 2], xTickLabels: ['0.1', '0.6', '1.2', '2'], yTicks: [0, 100, 200, 325], yTickLabels: ['0', '100', '200', '325'], yTickX: 1775, xTickBaseline: 1878, showCount: true, countX: 1740, countY: 1725 });
drawHistogram({ name: 'histogram-b16-5g', x0: 2138, x1: 2425, yTop: 1604, yBase: 1842, xMin: 0.1, xMax: 2.01, yMax: 302, bins: h6Bins, total: h6Total, g1: h6G1, s: h6S, g2: h6G2, g1At: 0.85, g2At: 1.43, sample: 'Sample4', titleX: 2275, titleY: 1594, xlabX: 2280, xlabY: 1905, xTicks: [0.1, 0.6, 1.2, 2], xTickLabels: ['0.1', '0.6', '1.2', '2'], yTicks: [0, 100, 200, 302], yTickLabels: ['0', '100', '200', '302'], yTickX: 2118, xTickBaseline: 1875 });
drawHistogram({ name: 'histogram-b16-uva', x0: 2466, x1: 2750, yTop: 1604, yBase: 1844, xMin: 0.08, xMax: 2.01, yMax: 174, bins: h7Bins, total: h7Total, g1: h7G1, s: h7S, g2: h7G2, g1At: 0.73, g2At: 1.23, sample: 'Sample2', titleX: 2605, titleY: 1594, xlabX: 2608, xlabY: 1908, xTicks: [0.1, 0.6, 1.2, 2], xTickLabels: ['0.1', '0.6', '1.2', '2'], yTicks: [0, 60, 120, 174], yTickLabels: ['0', '60', '120', '174'], yTickX: 2445, xTickBaseline: 1878 });
drawHistogram({ name: 'histogram-b16-uva-5g', x0: 2796, x1: 3079, yTop: 1603, yBase: 1841, xMin: 0.09, xMax: 2.02, yMax: 251, bins: h8Bins, total: h8Total, g1: h8G1, s: h8S, g2: h8G2, g1At: 0.67, g2At: 1.1, sample: 'Sample5', titleX: 2934, titleY: 1592, xlabX: 2937, xlabY: 1905, xTicks: [0.1, 0.6, 1.2, 2], xTickLabels: ['0.1', '0.6', '1.2', '2'], yTicks: [0, 80, 160, 251], yTickLabels: ['0', '80', '160', '251'], yTickX: 2776, xTickBaseline: 1875 });

/* ---------- PANEL E SCATTER PLOTS ---------- */
drawScatter({ name: 'scatter-hacat-control', x0: 229, x1: 486, yTop: 2135, yBase: 2372, yMaxExp: 5.1, yExps: scatterYExponentsTop, gateX: 393, gateY: 2198, coreX: s1CoreX, coreY: s1CoreY, haloX: s1HaloX, haloY: s1HaloY, strayX: s1StrayX, strayY: s1StrayY, haloFill: 'url(#speckle)', pct: s1Pct });
drawScatter({ name: 'scatter-hacat-5g', x0: 581, x1: 847, yTop: 2132, yBase: 2371, yMaxExp: 5.1, yExps: scatterYExponentsTop, gateX: 751, gateY: 2195, coreX: s2CoreX, coreY: s2CoreY, haloX: s2HaloX, haloY: s2HaloY, strayX: s2StrayX, strayY: s2StrayY, haloFill: 'url(#speckle)', pct: s2Pct });
drawScatter({ name: 'scatter-hacat-uva', x0: 935, x1: 1201, yTop: 2142, yBase: 2372, yMaxExp: 5.1, yExps: scatterYExponentsTop, gateX: 1105, gateY: 2203, coreX: s3CoreX, coreY: s3CoreY, haloX: s3HaloX, haloY: s3HaloY, strayX: s3StrayX, strayY: s3StrayY, haloFill: 'url(#speckle)', pct: s3Pct });
drawScatter({ name: 'scatter-hacat-uva-5g', x0: 1287, x1: 1553, yTop: 2142, yBase: 2372, yMaxExp: 5.1, yExps: scatterYExponentsTop, gateX: 1457, gateY: 2201, coreX: s4CoreX, coreY: s4CoreY, haloX: s4HaloX, haloY: s4HaloY, strayX: s4StrayX, strayY: s4StrayY, haloFill: 'url(#speckle)', pct: s4Pct });
drawScatter({ name: 'scatter-b16-control', x0: 230, x1: 495, yTop: 2589, yBase: 2818, yMaxExp: 7.7, yExps: scatterYExponentsBottom, gateX: 392, gateY: 2728, coreX: s5CoreX, coreY: s5CoreY, haloX: s5HaloX, haloY: s5HaloY, strayX: s5StrayX, strayY: s5StrayY, haloFill: 'url(#pinkGrid)', pct: s5Pct });
drawScatter({ name: 'scatter-b16-5g', x0: 574, x1: 844, yTop: 2585, yBase: 2821, yMaxExp: 7.7, yExps: scatterYExponentsBottom, gateX: 742, gateY: 2730, coreX: s6CoreX, coreY: s6CoreY, haloX: s6HaloX, haloY: s6HaloY, strayX: s6StrayX, strayY: s6StrayY, haloFill: 'url(#pinkGrid)', pct: s6Pct });
drawScatter({ name: 'scatter-b16-uva', x0: 938, x1: 1198, yTop: 2586, yBase: 2818, yMaxExp: 7.7, yExps: scatterYExponentsBottom, gateX: 1099, gateY: 2728, coreX: s7CoreX, coreY: s7CoreY, haloX: s7HaloX, haloY: s7HaloY, strayX: s7StrayX, strayY: s7StrayY, haloFill: 'url(#pinkGrid)', pct: s7Pct });
drawScatter({ name: 'scatter-b16-uva-5g', x0: 1287, x1: 1552, yTop: 2586, yBase: 2818, yMaxExp: 7.7, yExps: scatterYExponentsBottom, gateX: 1450, gateY: 2728, coreX: s8CoreX, coreY: s8CoreY, haloX: s8HaloX, haloY: s8HaloY, strayX: s8StrayX, strayY: s8StrayY, haloFill: 'url(#pinkGrid)', pct: s8Pct });
</script>
</body>
</html>
